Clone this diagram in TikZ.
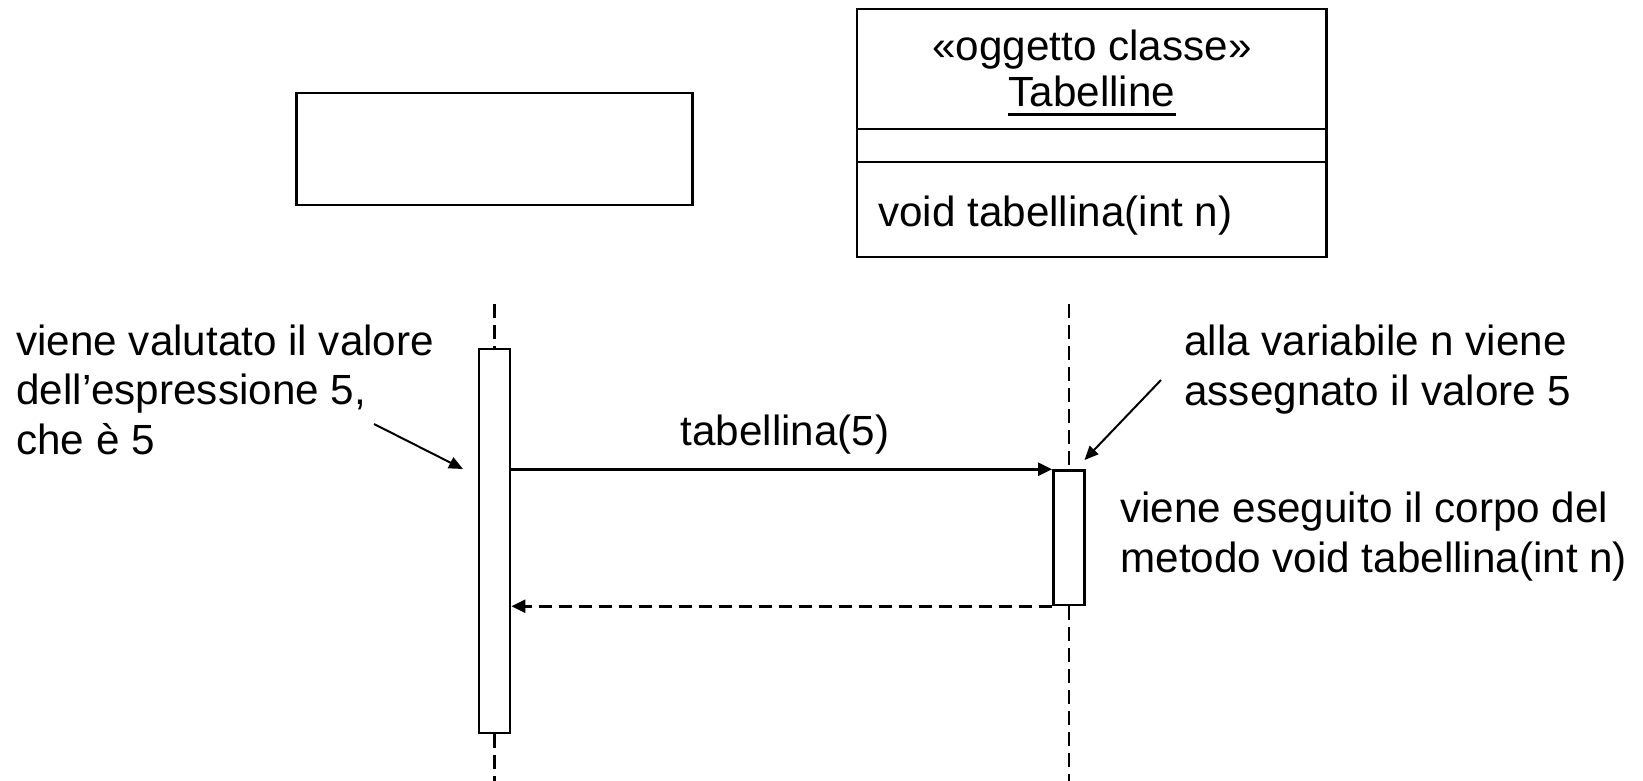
\documentclass[tikz,border=0pt]{standalone}
\usepackage{fontspec}
\setmainfont{Liberation Sans}
\usetikzlibrary{arrows.meta}

\tikzset{
  base/.style={line width=1.25pt, draw=black},
  txt/.style={inner sep=0pt, font=\fontsize{21.1pt}{24.7pt}\selectfont},
  note/.style={txt, align=left, anchor=base west},
  objbox/.style={base, fill=white, inner sep=0pt},
  activation/.style={base, fill=white, inner sep=0pt, minimum width=15.6pt},
  lifeline/.style={base, dash pattern=on 7pt off 3.5pt},
  call/.style={base, -{Triangle[length=7pt,width=6.5pt]}},
  reply/.style={base, dash pattern=on 6.5pt off 3.5pt, -{Triangle[length=7pt,width=6.5pt]}},
  pointer/.style={line width=1pt, -{Triangle[length=7pt,width=6pt]}}
}

\begin{document}
\begin{tikzpicture}[x=0.5pt, y=-0.5pt]
  \useasboundingbox (0,0) rectangle (1643,781);

  % anonymous caller object
  \node[objbox, minimum width=198pt, minimum height=56pt] (obj) at (494.5,149) {};

  % class object Tabelline with its three compartments
  \node[objbox, minimum width=234.75pt, minimum height=124pt] (cls) at (1091.75,133) {};
  \coordinate (d1) at (857,129);
  \coordinate (d2) at (857,162);
  \draw[base] (d1) -- (d1 -| cls.east);
  \draw[base] (d2) -- (d2 -| cls.east);
  \node[txt, anchor=base] (stereo) at (1092,61) {«oggetto classe»};
  \node[txt, anchor=base] (cname) at (1092,107) {Tabelline};
  \draw[line width=1.5pt] ([yshift=-4pt]cname.base west) -- ([yshift=-4pt]cname.base east);
  \node[txt, anchor=base west] (op) at (878,226) {void tabellina(int n)};

  % activation bars
  \node[activation, minimum height=192pt] (act1) at (494.5,541) {};
  \node[activation, minimum height=67.25pt] (act2) at (1069,537.75) {};

  % lifelines
  \coordinate (top1) at (494.5,304);
  \coordinate (bot1) at (494.5,781);
  \coordinate (top2) at (1069,304);
  \coordinate (bot2) at (1069,781);
  \draw[lifeline] (top1) -- (act1.north);
  \draw[lifeline] (act1.south) -- (bot1);
  \draw[lifeline] (top2) -- (act2.north);
  \draw[lifeline] (act2.south) -- (bot2);

  % call and return messages
  \draw[call] (act1.east |- act2.north) -- (act2.north west);
  \draw[reply] (act2.south west) -- (act1.east |- act2.south);
  \node[txt, anchor=base] (msg) at (785,445) {tabellina(5)};

  % explanatory notes (anchored on the baseline of their last line)
  \node[note] (n1) at (16,454) {viene valutato il valore\\dell’espressione 5,\\che è 5};
  \node[note] (n2) at (1184,405) {alla variabile n viene\\assegnato il valore 5};
  \node[note] (n3) at (1120,572) {viene eseguito il corpo del\\metodo void tabellina(int n)};

  \coordinate (p1s) at (374,424);
  \coordinate (p1e) at (463,469);
  \coordinate (p2s) at (1161,380);
  \coordinate (p2e) at (1084.5,460);
  \draw[pointer] (p1s) -- (p1e);
  \draw[pointer] (p2s) -- (p2e);
\end{tikzpicture}
\end{document}
